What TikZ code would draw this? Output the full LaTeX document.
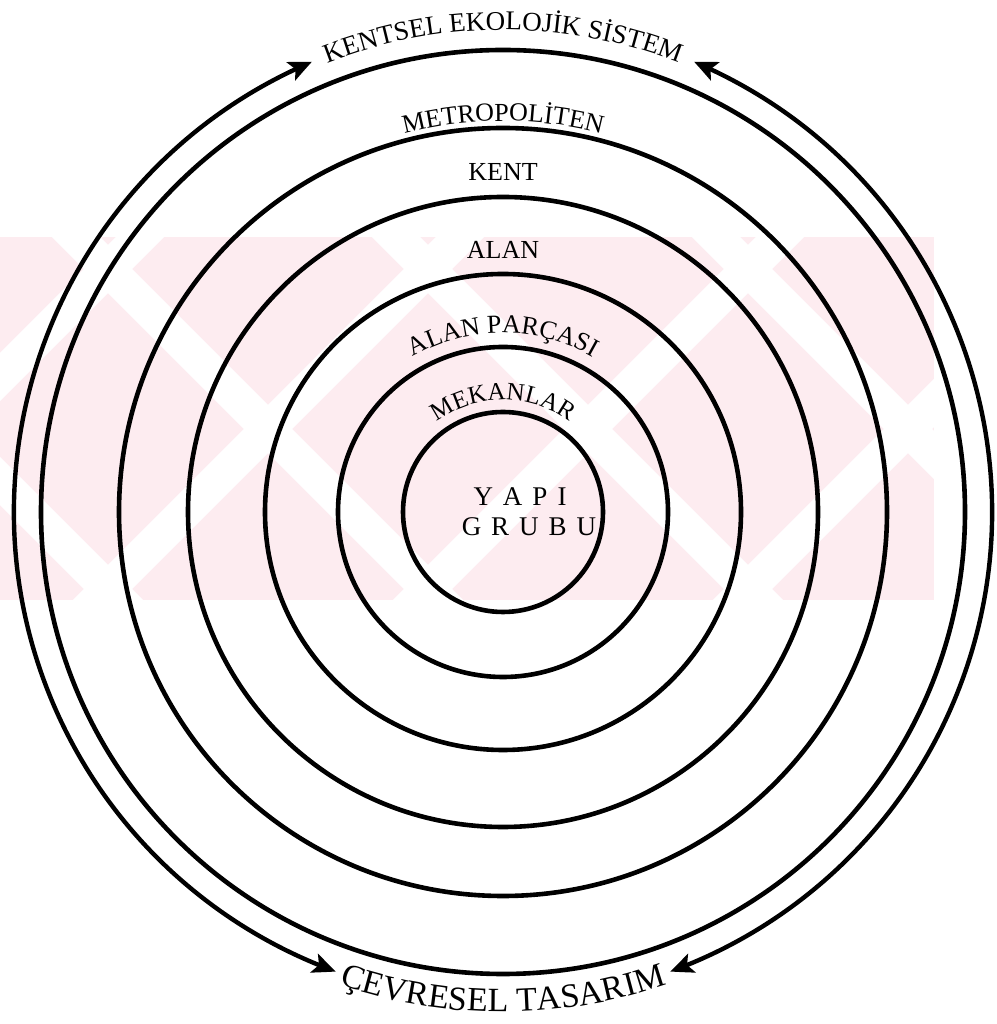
\documentclass[tikz,border=0pt]{standalone}
\usepackage{fontspec}
\setmainfont{Liberation Serif}
\usetikzlibrary{arrows.meta,bending,decorations.text}
\definecolor{wmpink}{RGB}{253,236,240}

\begin{document}
\begin{tikzpicture}[x=1pt,y=1pt,
  ring/.style={line width=4.6pt},
  flow/.style={line width=4.4pt,
    {Stealth[length=23pt,width=20pt,inset=5pt,bend]}-{Stealth[length=23pt,width=20pt,inset=5pt,bend]}},
  lbl/.style={font=\fontsize{26}{28}\selectfont, inner sep=0pt},
  spaced/.style={font=\fontsize{27}{29}\selectfont, inner sep=0pt},
  arclbl/.style 2 args={decorate, decoration={text along path, text align=center,
    text={|\fontsize{#1}{#1}\selectfont|#2}}}]
  \useasboundingbox (0,0) rectangle (996,1024);
  \coordinate (O) at (503,512);

  % watermark band
  \begin{scope}
    \clip (0,424) rectangle (934,787);
    \fill[wmpink] (0,424) rectangle (934,787);
    \foreach \c in {-244,76,396,716}
      \draw[white, line width=34pt] (\c-60,847) -- ++(483,-483);
    \foreach \d in {140,460,780,1100}
      \draw[white, line width=34pt] (\d+60,847) -- ++(-483,-483);
  \end{scope}

  % Rings
  \foreach \r in {100,165,238,315,384,462}
    \draw[ring] (O) circle[radius=\r];

  % Flow arrows
  \draw[flow] ([shift={(113:489)}]O) arc[start angle=113, end angle=250, radius=489];
  \draw[flow] ([shift={(67:489)}]O) arc[start angle=67, end angle=-70, radius=489];

  % Curved labels
  \path[arclbl={27}{KENTSEL EKOLOJİK SİSTEM}] ([shift={(125:482)}]O) arc[start angle=125, end angle=55, radius=482];
  \path[arclbl={34}{ÇEVRESEL TASARIM}] ([shift={(-125:500)}]O) arc[start angle=-125, end angle=-55, radius=500];
  \path[arclbl={26}{METROPOLİTEN}] ([shift={(135:391)}]O) arc[start angle=135, end angle=45, radius=391];
  \path[arclbl={26}{ALAN PARÇASI}] ([shift={(150:179)}]O) arc[start angle=150, end angle=30, radius=179];
  \path[arclbl={25}{MEKANLAR}] ([shift={(160:112)}]O) arc[start angle=160, end angle=20, radius=112];

  % Straight labels
  \node[lbl] (kent) at (503,852) {KENT};
  \node[lbl] (alan) at (503,774) {ALAN};
  \node[spaced] (yapi) at (520,527) {Y\kern10pt A\kern10pt P\kern10pt I};
  \node[spaced] (grubu) at (529,497) {G\kern10pt R\kern10pt U\kern10pt B\kern10pt U};
\end{tikzpicture}
\end{document}
